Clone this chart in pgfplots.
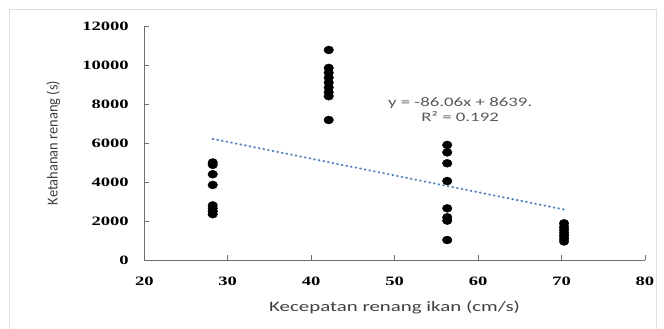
\documentclass[border=0pt]{standalone}
\usepackage{fontspec}
\setmainfont{Carlito}[FakeStretch=1.45]
\newfontfamily\plainfont{Carlito}[FakeStretch=0.95]
\newfontfamily\tickfont{Liberation Serif}[FakeStretch=1.45]
\usepackage{pgfplots}
\pgfplotsset{compat=1.18}
\definecolor{trend}{RGB}{79,129,189}
\definecolor{axgray}{RGB}{110,110,110}
\definecolor{labgray}{RGB}{64,64,64}
\definecolor{eqgray}{RGB}{89,89,89}
\begin{document}
\begin{tikzpicture}
\useasboundingbox (-144.3bp,-69bp) rectangle (519.7bp,260bp);
\draw[gray!25, line width=1bp] (-134.3bp,-69.5bp) rectangle (511.7bp,250bp);
\begin{axis}[
  at={(0,0)}, anchor=south west,
  scale only axis,
  width=500.7bp, height=234bp,
  xmin=20, xmax=80, ymin=0, ymax=12000,
  xtick={20,30,...,80},
  ytick={0,2000,...,12000},
  scaled y ticks=false,
  axis x line*=bottom, axis y line*=left,
  axis line style={axgray, line width=0.8bp, -},
  tick style={axgray, line width=0.8bp},
  tick align=inside,
  major tick length=5bp,
  /pgf/number format/assume math mode=true,
  /pgf/number format/1000 sep={},
  ticklabel style={font=\tickfont\bfseries\fontsize{12.8bp}{14bp}\selectfont, text=black},
  xticklabel style={anchor=north, yshift=-13bp},
  yticklabel style={anchor=east, xshift=-12bp},
  xlabel={Kecepatan renang ikan (cm/s)},
  ylabel={Ketahanan renang (s)},
  every axis x label/.style={at={(rel axis cs:0.5,0)}, anchor=center, yshift=-47bp, font=\fontsize{14.4bp}{16bp}\selectfont, text=labgray},
  every axis y label/.style={at={(rel axis cs:-0.1817,0.5)}, anchor=center, rotate=90, font=\plainfont\fontsize{15.2bp}{16bp}\selectfont, text=labgray},
  clip=false,
]
\addplot[only marks, mark=*, mark size=4bp, mark options={xscale=1.2, fill=black, draw=black}] coordinates {
  (28.2,5000) (28.2,4880) (28.2,4400) (28.2,3850) (28.2,2800) (28.2,2650) (28.2,2500) (28.2,2350)
  (42.1,10770) (42.1,9850) (42.1,9600) (42.1,9350) (42.1,9100) (42.1,8850) (42.1,8600) (42.1,8400) (42.1,7180)
  (56.3,5900) (56.3,5520) (56.3,4960) (56.3,4050) (56.3,2650) (56.3,2190) (56.3,2020) (56.3,1025)
  (70.3,1880) (70.3,1700) (70.3,1550) (70.3,1400) (70.3,1250) (70.3,1100) (70.3,950)
};
\addplot[trend, line width=2bp, line cap=round, dash pattern=on 0.7bp off 4bp] coordinates {
  (28.2,6212) (70.3,2589)
};
\node[align=center, text=eqgray, font=\fontsize{13bp}{15bp}\selectfont] at (axis cs:57.85,7718) {y = -86.06x + 8639.\\R² = 0.192};
\end{axis}
\end{tikzpicture}
\end{document}
